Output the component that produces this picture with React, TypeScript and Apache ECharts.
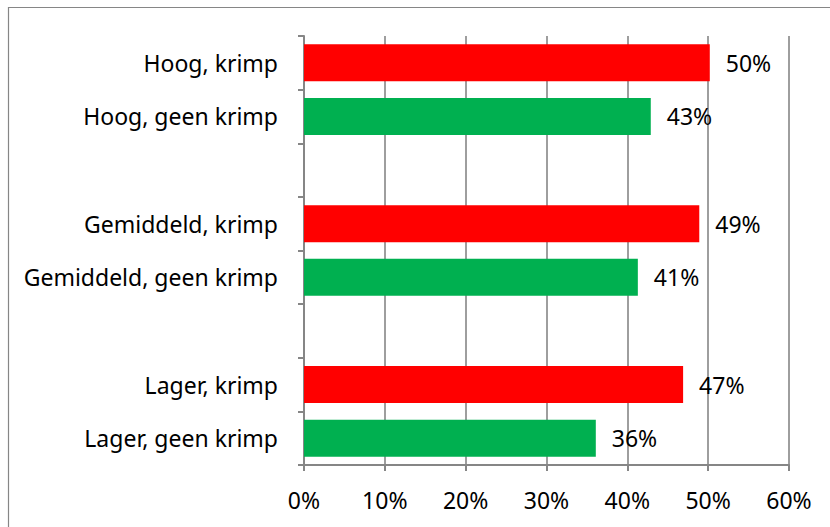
import React, { useEffect, useRef } from "react";
import * as echarts from "echarts";

const categories = [
  "Hoog, krimp",
  "Hoog, geen krimp",
  " ",
  "Gemiddeld, krimp",
  "Gemiddeld, geen krimp",
  "  ",
  "Lager, krimp",
  "Lager, geen krimp",
];
const values: (number | null)[] = [50.2, 42.9, null, 48.9, 41.3, null, 46.9, 36.1];
const valueLabels = ["50%", "43%", "", "49%", "41%", "", "47%", "36%"];
const barColors = ["#FF0000", "#00B050", null, "#FF0000", "#00B050", null, "#FF0000", "#00B050"];
const xTicks = [0, 10, 20, 30, 40, 50, 60];

const FONT = "Noto Sans";
const FS = 23;

export default function App() {
  const ref = useRef<HTMLDivElement>(null);
  useEffect(() => {
    if (!ref.current) return;
    const chart = echarts.init(ref.current, null, { renderer: "svg" });
    chart.setOption({
      animation: false,
      backgroundColor: "#ffffff",
      grid: { left: 304, right: 41, top: 36, bottom: 62, containLabel: false },
      xAxis: {
        type: "value",
        min: xTicks[0],
        max: xTicks[xTicks.length - 1],
        interval: 10,
        axisLine: { show: true, lineStyle: { color: "#868686", width: 2 } },
        axisTick: { show: true, length: 6, lineStyle: { color: "#868686", width: 2 } },
        splitLine: { show: true, lineStyle: { color: "#868686", width: 1.6 } },
        axisLabel: {
          formatter: (v: number) => `${v}%`,
          color: "#000",
          fontFamily: FONT,
          fontSize: FS,
          margin: 23,
        },
      },
      yAxis: {
        type: "category",
        inverse: true,
        data: categories,
        axisLine: { show: true, lineStyle: { color: "#868686", width: 2 } },
        axisTick: { show: true, length: 6, alignWithLabel: false, lineStyle: { color: "#868686", width: 2 } },
        axisLabel: { color: "#000", fontFamily: FONT, fontSize: FS, margin: 26 },
        splitLine: { show: false },
      },
      series: [
        {
          type: "bar",
          barWidth: 37,
          data: values.map((v, i) => ({
            value: v,
            itemStyle: { color: barColors[i] || "#fff" },
          })),
          label: {
            show: true,
            position: "right",
            distance: 16,
            color: "#000",
            fontFamily: FONT,
            fontSize: FS,
            formatter: (p: any) => valueLabels[p.dataIndex],
          },
        },
      ],
      graphic: [
        {
          type: "rect",
          shape: { x: 8.5, y: 7.5, width: 830, height: 530 },
          style: { fill: "none", stroke: "#868686", lineWidth: 1.2 },
          silent: true,
        },
      ],
    });
    return () => chart.dispose();
  }, []);
  return (
    <div
      ref={ref}
      style={{ position: "absolute", left: 0, top: 0, width: 830, height: 527 }}
    />
  );
}
